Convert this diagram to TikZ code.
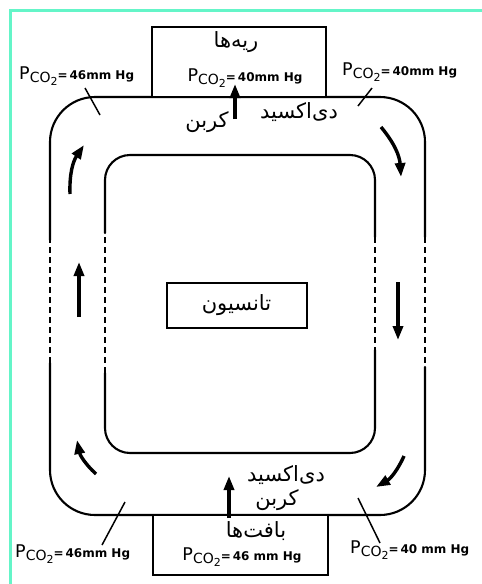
\documentclass[tikz,border=0pt]{standalone}
\usepackage{fontspec}
\usetikzlibrary{arrows.meta}
\TeXXeTstate=1
\newfontfamily\labfont{DejaVu Sans}
\newfontfamily\arabicfont[Script=Arabic]{DejaVu Sans}
\definecolor{framecyan}{RGB}{100,245,200}
\newcommand{\pco}[2][=]{{\labfont\fontsize{17.5}{17.5}\selectfont P\raisebox{-3.5pt}{\fontsize{14}{14}\selectfont CO\raisebox{-3pt}{\fontsize{11}{11}\selectfont 2}}\fontsize{12}{12}\selectfont\bfseries #1\,#2}}
\tikzset{
  wall/.style={line width=2.1pt, line cap=round},
  dashwall/.style={line width=2.1pt, dash pattern=on 6pt off 4pt},
  box/.style={draw, line width=2pt},
  fa/.style={font=\arabicfont\fontsize{21}{23}\selectfont, inner sep=0pt},
  plab/.style={inner sep=0pt},
  flow/.style={line width=3.4pt, -{Triangle[length=14pt,width=10pt]}},
  leader/.style={line width=1.5pt}
}
\begin{document}
\begin{tikzpicture}[x=1pt,y=-1pt]
\useasboundingbox (0,0) rectangle (482,584);
\fill[white] (0,0) rectangle (482,584);
% frame
\draw[framecyan, line width=3pt] (10.5,584) -- (10.5,10.5) -- (482,10.5);
% outer loop
\draw[wall, rounded corners=45pt] (50,240) -- (50,97) -- (425,97) -- (425,237);
\draw[dashwall] (425,237) -- (425,367);
\draw[wall, rounded corners=45pt] (425,367) -- (425,515) -- (50,515) -- (50,363);
\draw[dashwall] (50,363) -- (50,240);
% inner loop
\draw[wall, rounded corners=25pt] (105,233) -- (105,155) -- (375,155) -- (375,237);
\draw[dashwall] (375,237) -- (375,350);
\draw[wall, rounded corners=25pt] (375,350) -- (375,453) -- (105,453) -- (105,373);
\draw[dashwall] (105,373) -- (105,233);
% boxes
\draw[box, fill=white] (152,27) rectangle (326,97);
\draw[box, fill=white] (153,515) rectangle (328,575);
\node[box, minimum width=140pt, minimum height=45pt, inner sep=0pt] (tissue) at (236.5,305) {};
\node[fa] (tn) at (236.5,305) {\beginR تانسیون\endR};
% lungs box text
\node[fa] (lungs) at (236,42) {\beginR ریه‌ها\endR};
\node[plab] (plung) at (245,78) {\pco{40mm Hg}};
% tissues box text
\node[fa] (tis) at (256,531) {\beginR بافت‌ها\endR};
\node[plab] (ptis) at (242,557) {\pco{46 mm Hg}};
% CO2 labels
\node[fa] (co2a) at (299,112) {\beginR دی‌اکسید\endR};
\node[fa] (co2b) at (207,122) {\beginR کربن\endR};
\node[fa] (co2c) at (286,475) {\beginR دی‌اکسید\endR};
\node[fa, fill=white, inner xsep=3pt] (co2d) at (277,500) {\beginR کربن\endR};
% exchange arrows
\coordinate (a1s) at (235,119);
\coordinate (a1e) at (235,84);
\draw[flow] (a1s) -- (a1e);
\coordinate (a2s) at (229,518);
\coordinate (a2e) at (229,476);
\draw[flow] (a2s) -- (a2e);
% circulation arrows
\coordinate (c1s) at (381,127);
\coordinate (c1e) at (401,177);
\draw[flow] (c1s) to[bend left=18] (c1e);
\coordinate (c2s) at (398,282);
\coordinate (c2e) at (398,340);
\draw[flow] (c2s) -- (c2e);
\coordinate (c3s) at (404,456);
\coordinate (c3e) at (376,487);
\draw[flow] (c3s) to[bend left=18] (c3e);
\coordinate (c4s) at (96,474);
\coordinate (c4e) at (77,440);
\draw[flow] (c4s) to[bend left=18] (c4e);
\coordinate (c5s) at (79,317);
\coordinate (c5e) at (79,262);
\draw[flow] (c5s) -- (c5e);
\coordinate (c6s) at (70,194);
\coordinate (c6e) at (84,145);
\draw[flow] (c6s) to[bend left=18] (c6e);
% side labels
\node[plab, anchor=west] (ptl) at (19,76) {\pco{46mm Hg}};
\node[plab, anchor=west] (ptr) at (342,72) {\pco{40mm Hg}};
\node[plab, anchor=west] (pbl) at (15,554) {\pco{46mm Hg}};
\node[plab, anchor=west] (pbr) at (350,550) {\pco{40 mm Hg}};
% leaders
\coordinate (l1a) at (85,88);  \coordinate (l1b) at (100,115);
\draw[leader] (l1a) -- (l1b);
\coordinate (l2a) at (372,88); \coordinate (l2b) at (358,106);
\draw[leader] (l2a) -- (l2b);
\coordinate (l3a) at (125,502); \coordinate (l3b) at (102,545);
\draw[leader] (l3a) -- (l3b);
\coordinate (l4a) at (358,498); \coordinate (l4b) at (380,543);
\draw[leader] (l4a) -- (l4b);
\end{tikzpicture}
\end{document}
